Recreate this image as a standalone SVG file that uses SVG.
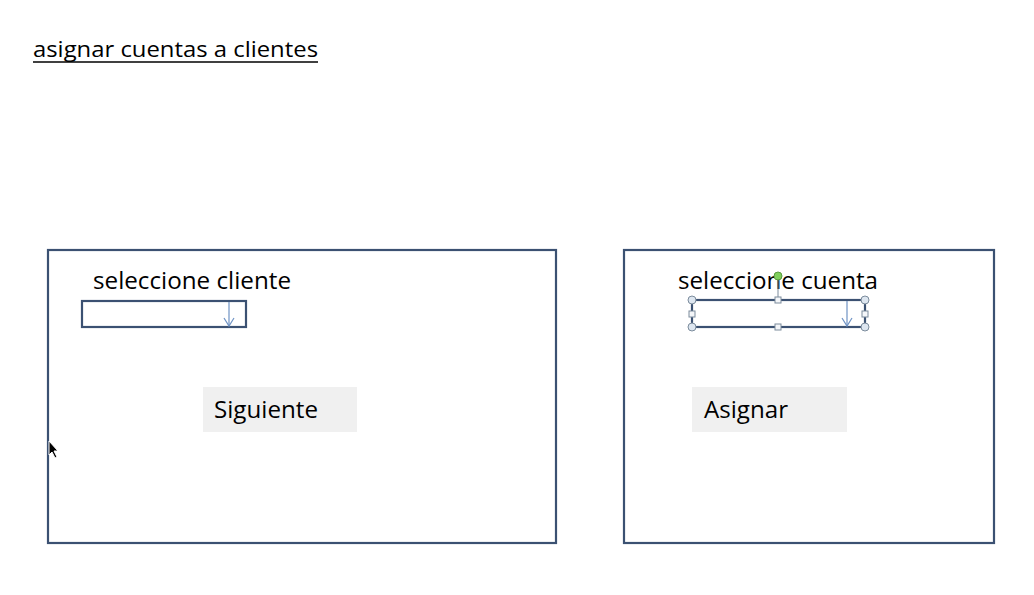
<svg xmlns="http://www.w3.org/2000/svg" width="1034" height="595" viewBox="0 0 1034 595">
<style>
.frame{fill:none;stroke:#3b5172;stroke-width:2.2}
.drop{fill:#fff;stroke:#3b5172;stroke-width:2.2}
.arr{fill:none;stroke:#6f93c4;stroke-width:1.2}
.btn{fill:#f0f0f0}
.t{font-family:"Open Sans","Liberation Sans",sans-serif;fill:#000}
.hc{fill:#dde6f0;stroke:#7c8c9c;stroke-width:1}
.hs{fill:#f4f6f9;stroke:#7c8c9c;stroke-width:1}
</style>
<rect width="1034" height="595" fill="#fff"/>
<g id="title">
<text class="t" x="33" y="57" font-size="22" textLength="285" lengthAdjust="spacingAndGlyphs">asignar cuentas a clientes</text>
<line x1="33" y1="62" x2="318" y2="62" stroke="#000" stroke-width="1.5"/>
</g>
<g id="panel-clientes">
<rect class="frame" x="48" y="250" width="508" height="293"/>
<text class="t" x="93" y="289" font-size="23" textLength="198" lengthAdjust="spacingAndGlyphs">seleccione cliente</text>
</g>
<g id="dropdown-cliente">
<rect class="drop" x="82" y="301" width="164" height="26"/>
<line class="arr" x1="229" y1="302" x2="229" y2="326"/>
<polyline class="arr" points="224,318 229,326 234,318"/>
</g>
<g id="btn-siguiente">
<rect class="btn" x="203" y="387" width="154" height="45"/>
<text class="t" x="214" y="418" font-size="23" textLength="104" lengthAdjust="spacingAndGlyphs">Siguiente</text>
</g>
<g id="panel-cuentas">
<rect class="frame" x="624" y="250" width="370" height="293"/>
<text class="t" x="678" y="289" font-size="23" textLength="200" lengthAdjust="spacingAndGlyphs">seleccione cuenta</text>
</g>
<g id="dropdown-cuenta">
<rect class="drop" x="692" y="300" width="173" height="27"/>
<line class="arr" x1="847" y1="301" x2="847" y2="326"/>
<polyline class="arr" points="842,318 847,326 852,318"/>
<line x1="778" y1="277" x2="778" y2="300" stroke="#7c8c9c" stroke-width="1"/>
<circle cx="778" cy="276" r="4" fill="#7fcf5c" stroke="#5a9a40" stroke-width="1"/>
<circle class="hc" cx="692" cy="300" r="4"/>
<circle class="hc" cx="865" cy="300" r="4"/>
<circle class="hc" cx="692" cy="327" r="4"/>
<circle class="hc" cx="865" cy="327" r="4"/>
<rect class="hs" x="775" y="297" width="6" height="6"/>
<rect class="hs" x="775" y="324" width="6" height="6"/>
<rect class="hs" x="689" y="311" width="6" height="6"/>
<rect class="hs" x="862" y="311" width="6" height="6"/>
</g>
<g id="btn-asignar">
<rect class="btn" x="692" y="387" width="155" height="45"/>
<text class="t" x="704" y="418" font-size="23" textLength="84" lengthAdjust="spacingAndGlyphs">Asignar</text>
</g>
<g id="cursor">
<path d="M49,441 L49,455 L52,452 L55,458 L57,457 L54,451 L58,451 Z" fill="#000" stroke="#fff" stroke-width="1"/>
</g>
</svg>
